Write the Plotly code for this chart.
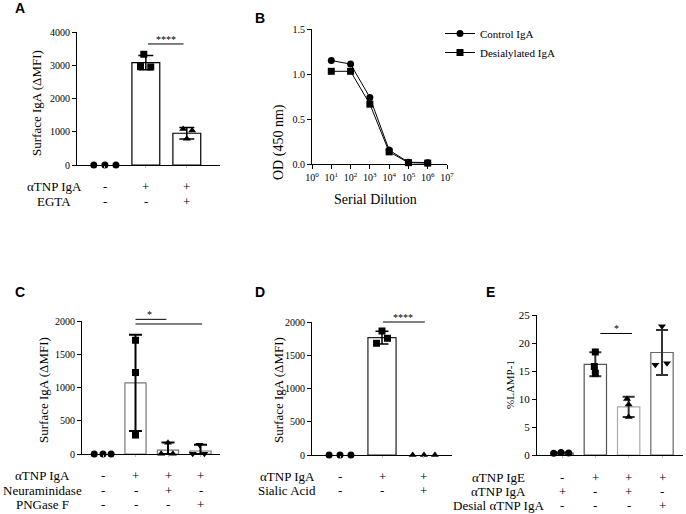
import plotly.graph_objects as go

W, H = 686, 514
SERIF = "Liberation Serif, Times New Roman, serif"
SANS = "Liberation Sans, Arial, sans-serif"


def fx(px):
    return px / W


def fy(py):
    return 1 - py / H


# ---------------- data ----------------
# Panel A
A_mean = [0, 3080, 955]
A_sd = [0, 215, 175]
A_pts = [[0, 0, 0], [3330, 2960, 2950], [1080, 1040, 790]]
A_rows = ["αTNP IgA", "EGTA"]
A_signs = [["-", "+", "+"], ["-", "-", "+"]]
A_ticks = [0, 1000, 2000, 3000, 4000]

# Panel B
B_dil = [1e1, 1e2, 1e3, 1e4, 1e5, 1e6]
B_control = [1.15, 1.11, 0.74, 0.155, 0.02, 0.015]
B_desial = [1.03, 1.03, 0.665, 0.135, 0.015, 0.01]
B_yticks = [0, 0.5, 1.0, 1.5]
B_xexp = [0, 1, 2, 3, 4, 5, 6, 7]

# Panel C
C_mean = [0, 1070, 57, 45]
C_sd = [0, 725, 115, 95]
C_pts = [[0, 0, 0], [1710, 1225, 285], [5, 5, 170], [5, 5, 140]]
C_rows = ["αTNP IgA", "Neuraminidase", "PNGase F"]
C_signs = [["-", "+", "+", "+"], ["-", "-", "+", "-"], ["-", "-", "-", "+"]]
C_ticks = [0, 500, 1000, 1500, 2000]

# Panel D
D_mean = [0, 1765, 0]
D_sd = [0, 95, 0]
D_pts = [[0, 0, 0], [1865, 1755, 1680], [0, 0, 0]]
D_rows = ["αTNP IgA", "Sialic Acid"]
D_signs = [["-", "+", "+"], ["-", "-", "+"]]
D_ticks = [0, 500, 1000, 1500, 2000]

# Panel E
E_mean = [0.35, 16.2, 8.6, 18.3]
E_sd = [0.1, 2.15, 1.8, 4.0]
E_pts = [[0.3, 0.45, 0.35], [18.4, 15.8, 14.6], [10.0, 9.0, 6.8], [23.0, 16.1, 16.4]]
E_rows = ["αTNP IgE", "αTNP IgA", "Desial αTNP IgA"]
E_signs = [["-", "+", "+", "+"], ["+", "-", "+", "-"], ["-", "-", "-", "+"]]
E_ticks = [0, 5, 10, 15, 20, 25]

# ---------------- styling / layout ----------------
SYMS = ["circle", "square", "triangle-up", "triangle-down"]
ROWFS = 13

panels = [
    dict(ax="", mean=A_mean, sd=A_sd, pts=A_pts, rows=A_rows, signs=A_signs, ticks=A_ticks,
         xd=(77, 220), yd=(165, 32), xr=(-0.68, 2.81), yr=(0, 4000), bw=0.68, cap=7.5,
         jit=[[-0.27, 0, 0.27], [-0.05, -0.13, 0.12], [-0.09, 0.13, 0.0]],
         barline=["black"] * 3, errc="black", errw=1.5,
         sig=[(1.05, 1.92, 3640, "****", 1.48)],
         rows_y=[186, 202], rows_x=54, ytitle="Surface IgA (ΔMFI)", yt=(37, 103, 13),
         tickfs=10, letter=("A", 20, 8)),
    dict(ax="3", mean=C_mean, sd=C_sd, pts=C_pts, rows=C_rows, signs=C_signs, ticks=C_ticks,
         xd=(82, 220), yd=(454, 321), xr=(-0.646, 3.6), yr=(0, 2000), bw=0.65, cap=6.5,
         jit=[[-0.27, 0, 0.25], [0, 0, 0], [-0.21, 0.15, 0.0], [-0.24, 0.12, -0.03]],
         barline=["#777"] * 4, errc="black", errw=2,
         sig=[(1.0, 1.95, 2025, "*", 1.42), (1.0, 3.05, 1955, None, 0)],
         rows_y=[475.5, 490, 504.5], rows_x=42, ytitle="Surface IgA (ΔMFI)", yt=(43, 390, 13),
         tickfs=10, letter=("C", 20, 292)),
    dict(ax="4", mean=D_mean, sd=D_sd, pts=D_pts, rows=D_rows, signs=D_signs, ticks=D_ticks,
         xd=(312, 452), yd=(455, 322), xr=(-0.667, 2.667), yr=(0, 2000), bw=0.67, cap=6.5,
         jit=[[-0.26, 0, 0.26], [0, 0.13, -0.13], [-0.27, 0, 0.26]],
         barline=["#222"] * 3, errc="black", errw=1.5,
         sig=[(1.02, 2.02, 2000, "****", 1.5)],
         rows_y=[476, 490], rows_x=287, ytitle="Surface IgA (ΔMFI)", yt=(278, 390, 13),
         tickfs=10, letter=("D", 260, 292)),
    dict(ax="5", mean=E_mean, sd=E_sd, pts=E_pts, rows=E_rows, signs=E_signs, ticks=E_ticks,
         xd=(537, 683), yd=(455, 315), xr=(-0.75, 3.63), yr=(0, 25), bw=0.67, cap=6,
         jit=[[-0.25, -0.03, 0.2], [0, -0.03, 0], [-0.05, 0, 0], [0, -0.2, 0.15]],
         barline=["#555", "#555", "#aaa", "#666"], errc="#333", errw=2,
         sig=[(1.15, 2.1, 21.7, "*", 1.62)],
         rows_y=[477, 491, 505], rows_x=498, ytitle="%LAMP-1", yt=(510, 385, 11),
         tickfs=11, letter=("E", 490, 292)),
]

fig = go.Figure()
annotations = []
shapes = []
layout = {}


def val_to_paper(p, v):
    (ybot, ytop), (r0, r1) = p["yd"], p["yr"]
    py = ybot + (v - r0) / (r1 - r0) * (ytop - ybot)
    return fy(py)


for p in panels:
    ax = p["ax"]
    xref = "x" + ax
    yref = "y" + ax
    n = len(p["mean"])
    idx = [i for i in range(n) if p["mean"][i] > 0]
    fig.add_trace(go.Bar(
        x=idx, y=[p["mean"][i] for i in idx], width=p["bw"],
        marker=dict(color="white", line=dict(color=[p["barline"][i] for i in idx], width=1.2)),
        error_y=dict(type="data", array=[p["sd"][i] for i in idx],
                     arrayminus=[min(p["sd"][i], p["mean"][i]) for i in idx],
                     color=p["errc"], thickness=p["errw"], width=p["cap"]),
        xaxis=xref, yaxis=yref, showlegend=False, hoverinfo="skip"))
    for i in range(n):
        fig.add_trace(go.Scatter(
            x=[i + j for j in p["jit"][i]], y=p["pts"][i], mode="markers",
            marker=dict(symbol=SYMS[i], size=7, color="black"),
            xaxis=xref, yaxis=yref, showlegend=False, cliponaxis=False, hoverinfo="skip"))
    for (x0, x1, yv, lab, lx) in p["sig"]:
        yp = val_to_paper(p, yv)
        shapes.append(dict(type="line", xref=xref, yref="paper", x0=x0, x1=x1, y0=yp, y1=yp,
                           line=dict(color="black", width=1)))
        if lab:
            annotations.append(dict(x=lx, y=yp, xref=xref, yref="paper", text=lab, showarrow=False,
                                    yanchor="bottom", yshift=-3,
                                    font=dict(family=SERIF, size=10, color="black")))
    for r, (rname, ry) in enumerate(zip(p["rows"], p["rows_y"])):
        annotations.append(dict(x=fx(p["rows_x"]), y=fy(ry), xref="paper", yref="paper", text=rname,
                                showarrow=False, xanchor="center", yanchor="middle", borderpad=0,
                                font=dict(family=SERIF, size=ROWFS, color="black")))
        for i, s in enumerate(p["signs"][r]):
            annotations.append(dict(x=i, y=fy(ry), xref=xref, yref="paper", text=s, showarrow=False,
                                    xanchor="center", yanchor="middle", borderpad=0,
                                    font=dict(family=SERIF, size=ROWFS, color="black")))
    tx, ty, tfs = p["yt"]
    annotations.append(dict(x=fx(tx), y=fy(ty), xref="paper", yref="paper", text=p["ytitle"],
                            textangle=-90, showarrow=False, xanchor="center", yanchor="middle",
                            font=dict(family=SERIF, size=tfs, color="black")))
    L, lx, ly = p["letter"]
    annotations.append(dict(x=fx(lx), y=fy(ly), xref="paper", yref="paper", text="<b>%s</b>" % L,
                            showarrow=False, xanchor="center", yanchor="middle",
                            font=dict(family=SANS, size=14, color="black")))
    layout["xaxis" + ax] = dict(domain=[fx(p["xd"][0]), fx(p["xd"][1])], range=list(p["xr"]),
                                anchor=yref, showline=True, linecolor="black", linewidth=1,
                                showgrid=False, zeroline=False, showticklabels=False,
                                tickvals=list(range(n)), ticks="outside", ticklen=2,
                                tickcolor="#bbb", fixedrange=True, automargin=False)
    layout["yaxis" + ax] = dict(domain=[fy(p["yd"][0]), fy(p["yd"][1])], range=list(p["yr"]),
                                anchor=xref, showline=True, linecolor="black", linewidth=1,
                                showgrid=False, zeroline=False, tickvals=p["ticks"],
                                ticktext=[str(t) for t in p["ticks"]], ticks="outside",
                                ticklen=4, tickcolor="black", automargin=False,
                                tickfont=dict(family=SERIF, size=p["tickfs"], color="black"))

# Panel B
fig.add_trace(go.Scatter(x=B_dil, y=B_control, mode="lines+markers", name="Control IgA",
                         line=dict(color="black", width=1), marker=dict(symbol="circle", size=7, color="black"),
                         xaxis="x2", yaxis="y2", cliponaxis=False))
fig.add_trace(go.Scatter(x=B_dil, y=B_desial, mode="lines+markers", name="Desialylated IgA",
                         line=dict(color="black", width=1), marker=dict(symbol="square", size=7, color="black"),
                         xaxis="x2", yaxis="y2", cliponaxis=False))
layout["xaxis2"] = dict(domain=[fx(312), fx(447)], type="log", range=[0, 7], anchor="y2",
                        showline=True, linecolor="black", linewidth=1, showgrid=False, zeroline=False,
                        tickvals=[10 ** e for e in B_xexp], automargin=False,
                        ticktext=["10<sup>%d</sup>" % e for e in B_xexp], ticks="outside", ticklen=4,
                        tickcolor="black", tickfont=dict(family=SERIF, size=10, color="black"))
layout["yaxis2"] = dict(domain=[fy(164), fy(29)], range=[0, 1.5], anchor="x2", automargin=False,
                        showline=True, linecolor="black", linewidth=1, showgrid=False, zeroline=False,
                        tickvals=B_yticks, ticktext=["%.1f" % t for t in B_yticks], ticks="outside",
                        ticklen=4, tickcolor="black", tickfont=dict(family=SERIF, size=10, color="black"))
annotations.append(dict(x=fx(279), y=fy(102), xref="paper", yref="paper", text="OD (450 nm)",
                        textangle=-90, showarrow=False, font=dict(family=SERIF, size=14, color="black")))
annotations.append(dict(x=fx(376), y=fy(200), xref="paper", yref="paper", text="Serial Dilution",
                        showarrow=False, font=dict(family=SERIF, size=14, color="black")))
annotations.append(dict(x=fx(260), y=fy(8), xref="paper", yref="paper", text="<b>B</b>",
                        showarrow=False, font=dict(family=SANS, size=14, color="black")))

fig.update_layout(
    template="none",
    width=W, height=H, margin=dict(l=0, r=0, t=0, b=0, pad=0), autosize=False,
    paper_bgcolor="white", plot_bgcolor="white", barmode="overlay",
    font=dict(family=SERIF, color="black"),
    annotations=annotations, shapes=shapes,
    legend=dict(x=fx(440), y=fy(19), xanchor="left", yanchor="top", bgcolor="rgba(0,0,0,0)",
                font=dict(family=SERIF, size=11, color="black"), itemwidth=30, tracegroupgap=2),
    **layout,
)

fig.write_html(
    "out.html",
    config={"displayModeBar": False, "staticPlot": True},
    post_script="document.body.style.margin='0px';document.body.style.padding='0px';"
                "document.body.style.overflow='hidden';",
)
